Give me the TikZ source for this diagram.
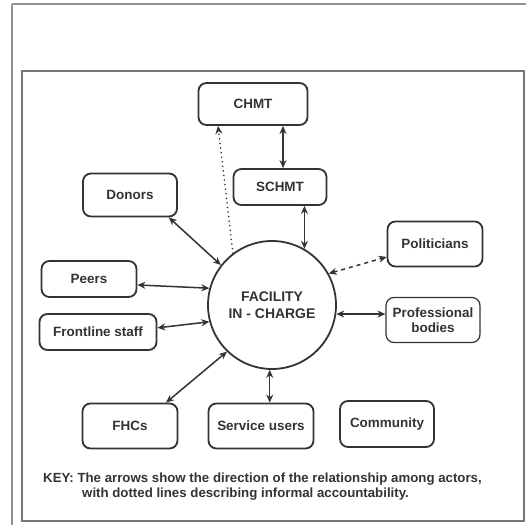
\documentclass[tikz,border=0pt]{standalone}
\usepackage{fontspec}
\setmainfont{Liberation Sans}
\usetikzlibrary{arrows.meta,calc}
\definecolor{ink}{HTML}{333333}
\definecolor{frame}{HTML}{777777}
\begin{document}
\begin{tikzpicture}[x=1bp,y=-1bp,
  box/.style={draw=ink, line width=1.8bp, rounded corners=8bp, text=ink,
    font=\bfseries\fontsize{13.5}{15}\selectfont, align=center, inner sep=0pt},
  thinbox/.style={box, line width=1.2bp},
  tip/.style={Stealth[length=8bp,width=7bp]},
  link/.style={draw=ink, line width=1.5bp, {Stealth[length=8bp,width=7bp]}-{Stealth[length=8bp,width=7bp]}},
  dotlink/.style={draw=ink, line width=1.7bp, line cap=round, dash pattern=on 0.1bp off 4.5bp, -{Stealth[length=8bp,width=7bp]}},
  dashlink/.style={draw=ink, line width=1.5bp, dash pattern=on 4bp off 4bp, {Stealth[length=8bp,width=7bp]}-{Stealth[length=8bp,width=7bp]}},
  keytext/.style={text=ink, font=\bfseries\fontsize{13.3}{15}\selectfont, anchor=west, inner sep=0pt}]
\useasboundingbox (0,0) rectangle (525,525);
\fill[white] (0,0) rectangle (525,525);
% frames
\draw[frame!80, line width=1.8bp] (12,4) -- (530,4);
\draw[frame!80, line width=1.8bp] (12,4) -- (12,530);
\draw[frame, line width=1.6bp] (22,71) rectangle (524,521);
% centre
\node[draw=ink, line width=1.8bp, circle, minimum size=128bp, text=ink, align=center,
  font=\bfseries\fontsize{14}{17}\selectfont, inner sep=0pt] (circ) at (272,305) {FACILITY\\IN - CHARGE};
% actors
\node[box, minimum width=109bp, minimum height=42bp] (chmt) at (253,104) {CHMT};
\node[box, minimum width=93bp, minimum height=36bp] (schmt) at (280,187) {SCHMT};
\node[box, minimum width=94bp, minimum height=43bp] (donors) at (130,195) {Donors};
\node[box, minimum width=95bp, minimum height=36bp] (peers) at (89,279) {Peers};
\node[box, minimum width=117bp, minimum height=36bp] (front) at (98,332) {Frontline staff};
\node[box, minimum width=95bp, minimum height=45bp] (pol) at (435,244) {Politicians};
\node[thinbox, minimum width=94bp, minimum height=45bp] (prof) at (433,320) {Professional\\bodies};
\node[box, minimum width=95bp, minimum height=45bp] (fhc) at (130,426) {FHCs};
\node[box, minimum width=105bp, minimum height=45bp] (svc) at (261,426) {Service users};
\node[box, minimum width=94bp, minimum height=46bp] (comm) at (387,424) {Community};
% key
\node[keytext] (key1) at (43,479) {KEY: The arrows show the direction of the relationship among actors,};
\node[keytext] (key2) at (82,494) {with dotted lines describing informal accountability.};
% connectors
\coordinate (cs) at ($(schmt.north)+(3,0)$);
\draw[link] (cs |- chmt.south) -- (cs);
\coordinate (cd) at ($(chmt.south)+(-35,0)$);
\draw[dotlink] (circ.127) -- (cd);
\draw[link] (circ.60 |- schmt.south) -- (circ.60);
\draw[dashlink] (circ.29) -- (pol.195);
\draw[link] (circ.352) -- (circ.352 -| prof.west);
\draw[link] (donors.330) -- (circ.142);
\draw[link] (peers.353) -- (circ.165);
\draw[link] (front.4) -- (circ.195);
\draw[link] (fhc.33) -- (circ.226);
\draw[link] (circ.268) -- (circ.268 |- svc.north);
\end{tikzpicture}
\end{document}
